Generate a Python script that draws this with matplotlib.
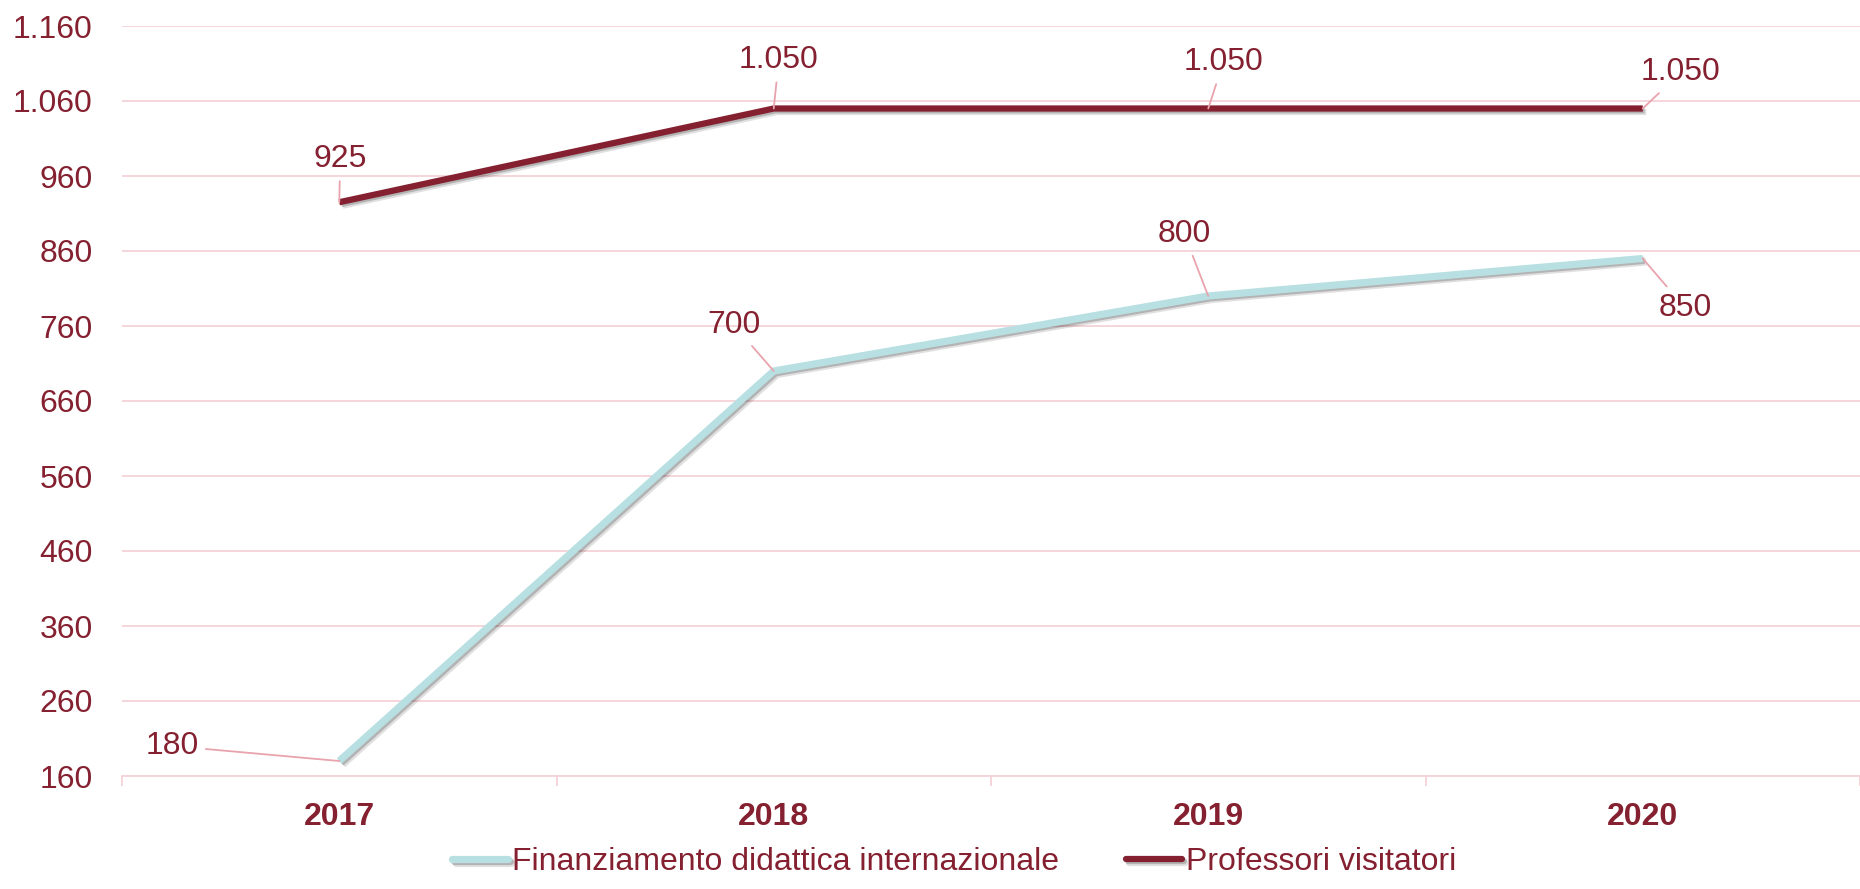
import matplotlib
matplotlib.use("Agg")
import matplotlib.pyplot as plt
import matplotlib.patheffects as pe
from matplotlib.ticker import FixedLocator, FuncFormatter

plt.rcParams["font.family"] = ["Liberation Sans", "DejaVu Sans"]

years = ["2017", "2018", "2019", "2020"]
finanziamento = [180, 700, 800, 850]
professori = [925, 1050, 1050, 1050]

# label offsets (pixels) for the data labels
off_fin = [(-167, 15), (-40, 46), (-24, 62), (42, -49)]
off_prof = [(1, 43), (5, 48), (15, 46), (38, 36)]

text_col = "#84202F"
blue = "#B8DFE2"
maroon = "#84202F"
grid_col = "#F5D3D8"
leader_col = "#E9A3AC"
fs = 23


def fmt(v):
    return f"{v:,.0f}".replace(",", ".")


fig = plt.figure(figsize=(18.6, 8.89), dpi=100)
ax = fig.add_axes([122 / 1860, 113 / 889, 1 - 122 / 1860, (776 - 26) / 889])

x = list(range(len(years)))
shadow = [pe.SimpleLineShadow(offset=(2.5, -2.5), shadow_color="black", alpha=0.12),
          pe.SimpleLineShadow(offset=(1.3, -1.3), shadow_color="black", alpha=0.2),
          pe.Normal()]
ax.plot(x, finanziamento, color=blue, lw=5.2, solid_capstyle="butt",
        path_effects=shadow, label="Finanziamento didattica internazionale", zorder=3)
ax.plot(x, professori, color=maroon, lw=4.5, solid_capstyle="butt",
        path_effects=shadow, label="Professori visitatori", zorder=3)

for vals, offs in [(finanziamento, off_fin), (professori, off_prof)]:
    for xi, v, o in zip(x, vals, offs):
        ax.annotate(fmt(v), xy=(xi, v), xytext=o, textcoords="offset pixels",
                    ha="center", va="center", fontsize=fs, color=text_col,
                    arrowprops=dict(arrowstyle="-", color=leader_col, lw=1.3,
                                    shrinkA=3, shrinkB=0), zorder=4)

ax.set_xlim(-0.5, 3.5)
ax.set_ylim(160, 1160)
ax.yaxis.set_major_locator(FixedLocator(range(160, 1161, 100)))
ax.yaxis.set_major_formatter(FuncFormatter(lambda v, p: fmt(v)))
ax.grid(axis="y", color=grid_col, lw=1.3)
ax.set_axisbelow(True)

ax.set_xticks([-0.5, 0.5, 1.5, 2.5, 3.5])
ax.set_xticklabels([])
ax.set_xticks(x, minor=True)
ax.set_xticklabels(years, minor=True, fontsize=fs, fontweight="bold", color=text_col)
ax.tick_params(axis="x", which="major", length=7, color=grid_col, width=1.3)
ax.tick_params(axis="x", which="minor", length=0, pad=19)
ax.tick_params(axis="y", length=0, pad=21, labelsize=fs, labelcolor=text_col)

for s in ["top", "right", "left"]:
    ax.spines[s].set_visible(False)
ax.spines["bottom"].set_color(grid_col)
ax.spines["bottom"].set_linewidth(1.3)

leg = fig.legend(loc="lower center", bbox_to_anchor=(954 / 1860, -0.012), ncol=2,
                 frameon=False, fontsize=fs, labelcolor=text_col, handlelength=1.75,
                 handletextpad=0.12, columnspacing=2.1, borderpad=0.2)
for h in leg.get_lines():
    h.set_solid_capstyle("round")

fig.savefig("out.png", dpi=100)
